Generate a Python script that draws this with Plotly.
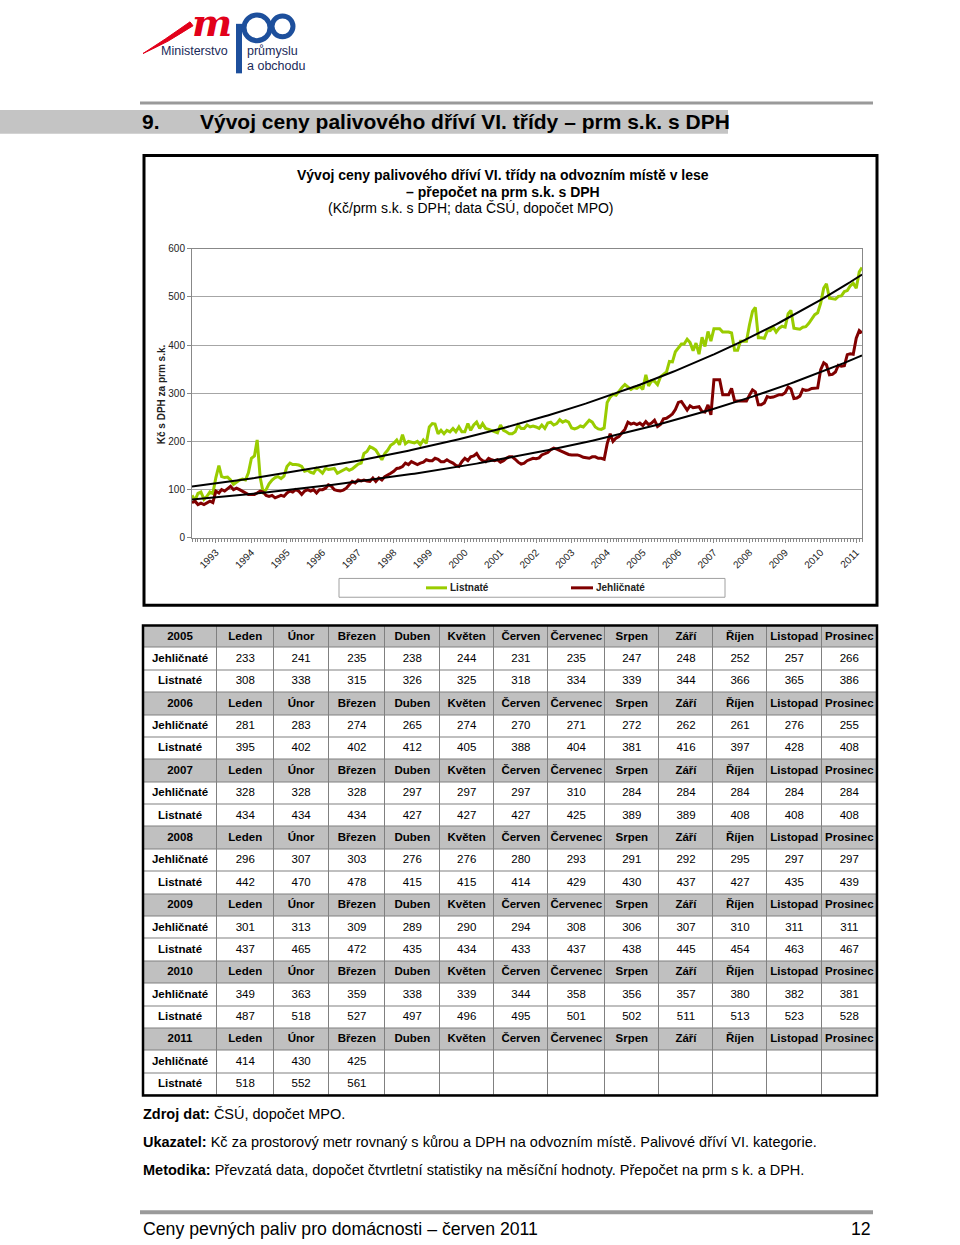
import numpy as np
import pandas as pd
import plotly.graph_objects as go

W, H = 960, 1245
def px(x): return x / W
def py(y): return 1 - y / H

# ---------------- data ----------------
months = ["Leden", "Únor", "Březen", "Duben", "Květen", "Červen", "Červenec",
          "Srpen", "Září", "Říjen", "Listopad", "Prosinec"]
years_axis = list(range(1993, 2012))

# Jehličnaté (monthly, May 1992 .. Dec 2004)
jehl_1992 = [73, 76, 69, 72, 69, 72, 76, 73]
jehl_1993 = [97, 93, 100, 97, 103, 107, 100, 103, 100, 97, 93, 90]
jehl_1994 = [90, 90, 93, 97, 95, 88, 86, 88, 83, 86, 88, 86]
jehl_1995 = [93, 97, 95, 100, 97, 90, 97, 100, 97, 100, 93, 100]
jehl_1996 = [100, 103, 110, 107, 100, 98, 97, 99, 103, 110, 117, 114]
jehl_1997 = [120, 118, 120, 118, 117, 124, 117, 124, 120, 127, 130, 134]
jehl_1998 = [138, 144, 145, 148, 155, 152, 158, 155, 152, 155, 157, 162]
jehl_1999 = [160, 160, 165, 163, 158, 158, 162, 158, 155, 150, 148, 158]
jehl_2000 = [165, 160, 168, 170, 175, 165, 160, 158, 165, 162, 160, 162]
jehl_2001 = [157, 160, 165, 168, 168, 163, 157, 153, 155, 160, 163, 165]
jehl_2002 = [164, 166, 172, 175, 177, 183, 186, 184, 181, 178, 175, 173]
jehl_2003 = [172, 172, 172, 170, 167, 166, 165, 168, 168, 165, 165, 163]
jehl_2004 = [195, 216, 200, 207, 210, 218, 225, 240, 236, 238, 235, 238]
jehl_2005 = [233, 241, 235, 238, 244, 231, 235, 247, 248, 252, 257, 266]
jehl_2006 = [281, 283, 274, 265, 274, 270, 271, 272, 262, 261, 276, 255]
jehl_2007 = [328, 328, 328, 297, 297, 297, 310, 284, 284, 284, 284, 284]
jehl_2008 = [296, 307, 303, 276, 276, 280, 293, 291, 292, 295, 297, 297]
jehl_2009 = [301, 313, 309, 289, 290, 294, 308, 306, 307, 310, 311, 311]
jehl_2010 = [349, 363, 359, 338, 339, 344, 358, 356, 357, 380, 382, 381]
jehl_2011 = [414, 430, 425]

# Listnaté
list_1992 = [88, 78, 92, 95, 80, 86, 95, 92]
list_1993 = [125, 150, 127, 125, 126, 120, 111, 115, 120, 122, 120, 135]
list_1994 = [165, 170, 203, 125, 95, 100, 112, 120, 125, 127, 123, 128]
list_1995 = [148, 155, 152, 152, 151, 148, 138, 140, 136, 134, 144, 140]
list_1996 = [134, 144, 142, 143, 144, 134, 137, 140, 144, 140, 143, 148]
list_1997 = [153, 155, 175, 179, 189, 186, 182, 172, 162, 175, 182, 192]
list_1998 = [196, 203, 193, 214, 195, 200, 198, 197, 200, 193, 203, 196]
list_1999 = [230, 237, 236, 216, 223, 216, 223, 220, 227, 220, 230, 220]
list_2000 = [220, 237, 223, 234, 240, 227, 237, 227, 225, 223, 220, 218]
list_2001 = [234, 223, 220, 216, 216, 220, 234, 227, 227, 234, 230, 232]
list_2002 = [230, 227, 234, 227, 238, 240, 234, 237, 245, 240, 243, 240]
list_2003 = [228, 226, 228, 232, 230, 238, 244, 240, 230, 226, 225, 228]
list_2004 = [281, 292, 298, 296, 305, 312, 318, 312, 308, 312, 310, 315]
list_2005 = [308, 338, 315, 326, 325, 318, 334, 339, 344, 366, 365, 386]
list_2006 = [395, 402, 402, 412, 405, 388, 404, 381, 416, 397, 428, 408]
list_2007 = [434, 434, 434, 427, 427, 427, 425, 389, 389, 408, 408, 408]
list_2008 = [442, 470, 478, 415, 415, 414, 429, 430, 437, 427, 435, 439]
list_2009 = [437, 465, 472, 435, 434, 433, 437, 438, 445, 454, 463, 467]
list_2010 = [487, 518, 527, 497, 496, 495, 501, 502, 511, 513, 523, 528]
list_2011 = [518, 552, 561]

jehl = (jehl_1992 + jehl_1993 + jehl_1994 + jehl_1995 + jehl_1996 + jehl_1997 + jehl_1998
        + jehl_1999 + jehl_2000 + jehl_2001 + jehl_2002 + jehl_2003 + jehl_2004 + jehl_2005
        + jehl_2006 + jehl_2007 + jehl_2008 + jehl_2009 + jehl_2010 + jehl_2011)
listn = (list_1992 + list_1993 + list_1994 + list_1995 + list_1996 + list_1997 + list_1998
         + list_1999 + list_2000 + list_2001 + list_2002 + list_2003 + list_2004 + list_2005
         + list_2006 + list_2007 + list_2008 + list_2009 + list_2010 + list_2011)
dates = pd.date_range("1992-05-01", periods=len(jehl), freq="MS")

table_years = [2005, 2006, 2007, 2008, 2009, 2010, 2011]
table_jehl = [jehl_2005, jehl_2006, jehl_2007, jehl_2008, jehl_2009, jehl_2010, jehl_2011]
table_list = [list_2005, list_2006, list_2007, list_2008, list_2009, list_2010, list_2011]
col_widths = [74, 56.5, 55.2, 56.3, 54.6, 54.2, 54.2, 56.6, 54.4, 54, 54, 54.6, 55.4]

# exponential trend (Excel-like)
def exp_trend(vals):
    t = np.arange(len(vals))
    b, a = np.polyfit(t, np.log(np.array(vals, float)), 1)
    return np.exp(a + b * t)

GREEN = "#99cc00"
RED = "#800000"
SANS = "Liberation Sans, Arial, sans-serif"

fig = go.Figure()
fig.add_trace(go.Scatter(x=dates, y=listn, mode="lines", name="Listnaté",
                         line=dict(color=GREEN, width=3), showlegend=False))
fig.add_trace(go.Scatter(x=dates, y=jehl, mode="lines", name="Jehličnaté",
                         line=dict(color=RED, width=3), showlegend=False))
fig.add_trace(go.Scatter(x=dates, y=exp_trend(listn), mode="lines",
                         line=dict(color="black", width=2), showlegend=False))
fig.add_trace(go.Scatter(x=dates, y=exp_trend(jehl), mode="lines",
                         line=dict(color="black", width=2), showlegend=False))

# ---------------- table (heatmap cells + text on own axes) ----------------
rows, kinds = [], []
for yr, jv, lv in zip(table_years, table_jehl, table_list):
    rows.append([f"<b>{yr}</b>"] + [f"<b>{m}</b>" for m in months]); kinds.append(1)
    rows.append(["<b>Jehličnaté</b>"] + [str(v) for v in jv] + [""] * (12 - len(jv))); kinds.append(0)
    rows.append(["<b>Listnaté</b>"] + [str(v) for v in lv] + [""] * (12 - len(lv))); kinds.append(0)
n_rows, n_cols = len(rows), len(col_widths)
x_edges = np.concatenate([[0], np.cumsum(col_widths)])
x_centers = (x_edges[:-1] + x_edges[1:]) / 2
z = [[k] * n_cols for k in kinds]

fig.add_trace(go.Heatmap(z=z, x=x_edges, y=np.arange(n_rows + 1), xaxis="x2", yaxis="y2",
                         colorscale=[[0, "white"], [1, "#c0c0c0"]], zmin=0, zmax=1,
                         showscale=False, xgap=1, ygap=1, hoverinfo="skip"))
tx, ty, tt = [], [], []
for r, row in enumerate(rows):
    for c, val in enumerate(row):
        if val:
            tx.append(x_centers[c]); ty.append(r + 0.5); tt.append(val)
fig.add_trace(go.Scatter(x=tx, y=ty, text=tt, mode="text", xaxis="x2", yaxis="y2",
                         textfont=dict(family=SANS, size=11.5, color="black"),
                         hoverinfo="skip", showlegend=False))

tab_top, tab_left, tab_right = 625.5, 143, 877
row_h = 22.6
tab_bot = tab_top + row_h * n_rows

# ---------------- layout ----------------
fig.update_layout(
    width=W, height=H, margin=dict(l=0, r=0, t=0, b=0),
    paper_bgcolor="white", plot_bgcolor="white",
    font=dict(family=SANS, size=10, color="#222"),
    xaxis=dict(domain=[px(192), px(862)], type="date",
               range=[dates[0], dates[-1]],
               tickmode="array",
               tickvals=[pd.Timestamp(f"{y}-01-01") for y in years_axis],
               ticktext=[str(y) for y in years_axis],
               tickangle=-45, ticks="outside", ticklen=4, tickcolor="#888",
               minor=dict(tickmode="linear", tick0="1992-05-01", dtick="M1",
                          ticks="outside", ticklen=3, tickcolor="#888", showgrid=False),
               showline=True, linecolor="#888", linewidth=1, mirror=True,
               showgrid=False, zeroline=False,
               tickfont=dict(family=SANS, size=10, color="#222")),
    yaxis=dict(domain=[py(537), py(245)], range=[0, 600], dtick=100,
               showgrid=True, gridcolor="#a6a6a6", gridwidth=1,
               showline=True, linecolor="#888", linewidth=1, mirror=True,
               ticks="outside", ticklen=4, tickcolor="#888", zeroline=False,
               tickfont=dict(family=SANS, size=10, color="#222")),
    xaxis2=dict(domain=[px(tab_left), px(tab_right)], range=[0, x_edges[-1]],
                visible=False, anchor="y2", fixedrange=True),
    yaxis2=dict(domain=[py(tab_bot), py(tab_top)], range=[n_rows, 0],
                visible=False, anchor="x2", fixedrange=True),
)

shapes, ann = [], []
def A(x, y, text, size, xanchor="left", family=SANS, color="black", **kw):
    ann.append(dict(x=px(x), y=py(y), xref="paper", yref="paper", text=text,
                    showarrow=False, xanchor=xanchor, yanchor="middle",
                    font=dict(family=family, size=size, color=color), **kw))

# grid background for table (shows through heatmap gaps)
shapes.append(dict(type="rect", xref="x2", yref="y2", x0=0, x1=x_edges[-1], y0=0, y1=n_rows,
                   fillcolor="#808080", line=dict(width=0), layer="below"))
# table outer frame
shapes.append(dict(type="rect", xref="paper", yref="paper", x0=px(tab_left), x1=px(tab_right),
                   y0=py(tab_bot), y1=py(tab_top), line=dict(color="black", width=2.5)))

# chart frame
shapes.append(dict(type="rect", xref="paper", yref="paper", x0=px(144), x1=px(877),
                   y0=py(605), y1=py(151), line=dict(color="black", width=3)))
# legend box
shapes.append(dict(type="rect", xref="paper", yref="paper", x0=px(339), x1=px(725),
                   y0=py(597), y1=py(578), line=dict(color="#a0a0a0", width=1)))
shapes.append(dict(type="line", xref="paper", yref="paper", x0=px(426), x1=px(447),
                   y0=py(587.5), y1=py(587.5), line=dict(color=GREEN, width=3)))
shapes.append(dict(type="line", xref="paper", yref="paper", x0=px(571), x1=px(593),
                   y0=py(587.5), y1=py(587.5), line=dict(color=RED, width=3)))
A(448, 587.5, "<b>Listnaté</b>", 10, color="#222")
A(594, 587.5, "<b>Jehličnaté</b>", 10, color="#222")
# chart title
A(503, 171, "<b>Vývoj ceny palivového dříví VI. třídy na odvozním místě v lese</b>", 14, "center")
A(503, 188, "<b>– přepočet na prm s.k. s DPH</b>", 14, "center")
A(471, 204, "(Kč/prm s.k. s DPH; data ČSÚ, dopočet MPO)", 14, "center")
# y axis title
A(161, 392, "<b>Kč s DPH za prm s.k.</b>", 10, "center", color="#222", textangle=-90)

# page header
shapes.append(dict(type="line", xref="paper", yref="paper", x0=px(140), x1=px(873),
                   y0=py(98), y1=py(98), line=dict(color="#9a9a9a", width=3)))
shapes.append(dict(type="rect", xref="paper", yref="paper", x0=0, x1=px(728),
                   y0=py(129), y1=py(105), fillcolor="#c4c4c4", line=dict(width=0), layer="below"))
A(140, 117, "<b>9.</b>", 21)
A(198, 117, "<b>Vývoj ceny palivového dříví VI. třídy – prm s.k. s DPH</b>", 21)

# logo (approximation)
shapes.append(dict(type="path", xref="paper", yref="paper",
                   path=f"M {px(143)},{py(48)} Q {px(165)},{py(34)} {px(190)},{py(16)} "
                        f"L {px(193)},{py(20)} Q {px(168)},{py(37)} {px(143)},{py(48)} Z",
                   fillcolor="#e2001a", line=dict(color="#e2001a", width=1)))
A(212, 17, "<b><i>m</i></b>", 38, "center", family="DejaVu Serif, serif", color="#e2001a")
shapes.append(dict(type="rect", xref="paper", yref="paper", x0=px(236), x1=px(242),
                   y0=py(68), y1=py(18), fillcolor="#1d4f9c", line=dict(width=0)))
shapes.append(dict(type="circle", xref="paper", yref="paper", x0=px(244), x1=px(270),
                   y0=py(35), y1=py(9), line=dict(color="#1d4f9c", width=5)))
shapes.append(dict(type="circle", xref="paper", yref="paper", x0=px(272), x1=px(293),
                   y0=py(31), y1=py(10), line=dict(color="#1d4f9c", width=5)))
A(230, 45, "Ministerstvo", 12.5, "right", color="#1a2a5a")
A(245, 45, "průmyslu", 12.5, color="#1a2a5a")
A(245, 61, "a obchodu", 12.5, color="#1a2a5a")

# notes below table
A(141, 1119, "<b>Zdroj dat:</b> ČSÚ, dopočet MPO.", 14.5)
A(141, 1147, "<b>Ukazatel:</b> Kč za prostorový metr rovnaný s kůrou a DPH na odvozním místě. Palivové dříví VI. kategorie.", 14.5)
A(141, 1175, "<b>Metodika:</b> Převzatá data, dopočet čtvrtletní statistiky na měsíční hodnoty. Přepočet na prm s k. a DPH.", 14.5)

# footer
shapes.append(dict(type="line", xref="paper", yref="paper", x0=px(140), x1=px(873),
                   y0=py(1218), y1=py(1218), line=dict(color="#9a9a9a", width=4)))
A(141, 1235, "Ceny pevných paliv pro domácnosti – červen 2011", 17.7)
A(873, 1235, "12", 17.7, "right")

fig.update_layout(shapes=shapes, annotations=ann)
fig.write_html("out.html", config={"displayModeBar": False},
               post_script="document.body.style.margin='0';document.body.style.overflow='hidden';")
